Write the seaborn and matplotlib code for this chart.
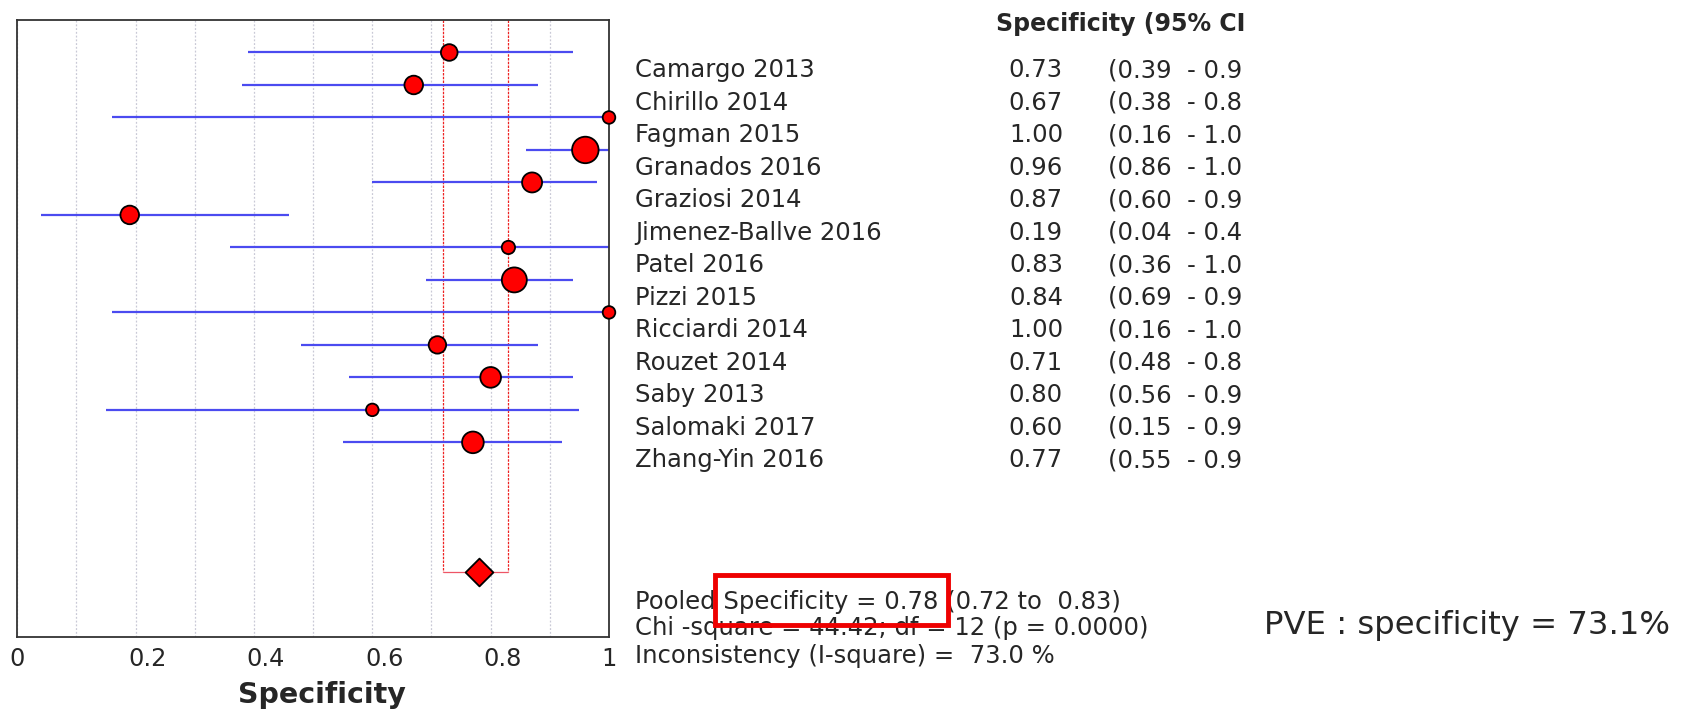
import numpy as np
import pandas as pd
import matplotlib
matplotlib.use("Agg")
import matplotlib.pyplot as plt
import matplotlib.transforms as mtransforms
import seaborn as sns
from matplotlib.transforms import blended_transform_factory
from matplotlib.patches import Rectangle

# ---------------- data ----------------
studies = ["Camargo 2013", "Chirillo 2014", "Fagman 2015", "Granados 2016",
           "Graziosi 2014", "Jimenez-Ballve 2016", "Patel 2016", "Pizzi 2015",
           "Ricciardi 2014", "Rouzet 2014", "Saby 2013", "Salomaki 2017",
           "Zhang-Yin 2016"]
specificity = [0.73, 0.67, 1.00, 0.96, 0.87, 0.19, 0.83, 0.84, 1.00, 0.71, 0.80, 0.60, 0.77]
ci_low = [0.39, 0.38, 0.16, 0.86, 0.60, 0.04, 0.36, 0.69, 0.16, 0.48, 0.56, 0.15, 0.55]
ci_high = [0.94, 0.88, 1.00, 1.00, 0.98, 0.46, 1.00, 0.94, 1.00, 0.88, 0.94, 0.95, 0.92]
weights = [6.1, 7.6, 3.5, 15.4, 8.8, 7.6, 3.9, 13.7, 3.5, 6.7, 9.4, 3.5, 10.3]

pooled = 0.78
pooled_low = 0.72
pooled_high = 0.83
chi_square = 44.42
dof = 12
p_value = 0.0000
i_square = 73.0
pve = 73.1

x_ticks = [0, 0.2, 0.4, 0.6, 0.8, 1]
x_tick_labels = ["0", "0.2", "0.4", "0.6", "0.8", "1"]
x_label = "Specificity"
header = "Specificity (95% CI"

# ---------------- style ----------------
sns.set_style("white")
plt.rcParams["font.family"] = ["DejaVu Sans"]

W, H = 1691, 714
fig = plt.figure(figsize=(W / 100, H / 100), dpi=100)
fx = lambda px: px / W
fy = lambda py: 1 - py / H

ax = fig.add_axes([fx(17.3), fy(637.3), fx(609) - fx(17.3), fy(20) - fy(637.3)])

n = len(studies)
df = pd.DataFrame({
    "study": studies,
    "spec": specificity,
    "lo": ci_low,
    "hi": ci_high,
    "weight": weights,
    "row": np.arange(n),
})
pooled_row = n + 3

# axes, ticks, grid
ax.set_xlim(0, 1)
ax.set_ylim(n + 5, -1)
ax.set_xticks(x_ticks)
ax.set_xticklabels(x_tick_labels, fontsize=17.3)
ax.set_xticks(np.arange(0.1, 1.0, 0.2), minor=True)
ax.grid(which="both", axis="x", color="#c9c9d6", linestyle=(0, (1.5, 1.5)), linewidth=0.9)
ax.set_yticks([])
ax.tick_params(axis="x", which="both", length=0, pad=7)
# the original software draws the inner tick labels slightly to the right
shift = mtransforms.ScaledTranslation(12 / 100, 0, fig.dpi_scale_trans)
for lab in ax.get_xticklabels()[1:-1]:
    lab.set_transform(lab.get_transform() + shift)
for s in ax.spines.values():
    s.set_color("#333333")
    s.set_linewidth(1.3)

# pooled CI box (red dotted)
ax.vlines([pooled_low, pooled_high], -1, pooled_row, colors="#ee2222",
          linestyles=(0, (2, 1)), linewidth=0.9, zorder=2)
ax.hlines(pooled_row, pooled_low, pooled_high, colors="#ee5566", linewidth=0.9, zorder=2)

# CI lines
ax.hlines(df["row"], df["lo"], df["hi"], colors="#4b4bf0", linewidth=1.6, zorder=2)

# study points
sns.scatterplot(data=df, x="spec", y="row", size="weight", sizes=(82, 364),
                size_norm=(min(weights), max(weights)), color="#ff0000",
                edgecolor="black", linewidth=1.3, legend=False, ax=ax, zorder=3)
ax.collections[-1].set_clip_on(False)

# pooled diamond
sns.scatterplot(x=[pooled], y=[pooled_row], marker="D", s=200, color="#ff0000",
                edgecolor="black", linewidth=1.3, legend=False, ax=ax, zorder=3)

ax.set_xlabel(x_label, fontsize=20.5, fontweight="bold", labelpad=9)
ax.xaxis.set_label_coords(0.515, -0.07)
ax.xaxis.label.set_va("top")
ax.set_ylabel("")

# ---------------- table text ----------------
tr = blended_transform_factory(fig.transFigure, ax.transData)
fs = 17.5
for i, r in df.iterrows():
    y = r["row"] + 0.76
    ax.text(fx(635), y, r["study"], transform=tr, fontsize=fs, va="baseline", ha="left")
    ax.text(fx(1063), y, f"{r['spec']:.2f}", transform=tr, fontsize=fs, va="baseline", ha="right")
    hi_txt = f"{r['hi']:.2f}"[:3]
    ax.text(fx(1108), y, f"({r['lo']:.2f}  - {hi_txt}", transform=tr, fontsize=fs,
            va="baseline", ha="left")

fig.text(fx(996), fy(31), header, fontsize=17, fontweight="bold", va="baseline", ha="left")

line1 = f"Pooled Specificity = {pooled:.2f} ({pooled_low:.2f} to  {pooled_high:.2f})"
line2 = f"Chi -square = {chi_square:.2f}; df = {dof} (p = {p_value:.4f})"
line3 = f"Inconsistency (I-square) =  {i_square:.1f} %"
base1, base2, base3 = 608.5, 635.5, 662.5
fig.text(fx(635), fy(base1), line1, fontsize=fs, va="baseline", ha="left")
fig.text(fx(635), fy(base2), line2, fontsize=fs, va="baseline", ha="left")
fig.text(fx(635), fy(base3), line3, fontsize=fs, va="baseline", ha="left")

# red highlight box around "Specificity = 0.78"
renderer = fig.canvas.get_renderer()
def text_w(s):
    t = fig.text(0, 0, s, fontsize=fs)
    w = t.get_window_extent(renderer).width
    t.remove()
    return w
hl = f"Specificity = {pooled:.2f}"
w_full = text_w(f"Pooled {hl}")
w_hl = text_w(hl)
x0 = 635 + (w_full - w_hl) - 8
x1 = 635 + w_full + 10
y_top = base1 - 17.5 - 16
y_bot = base1 + 16
fig.patches.append(Rectangle((fx(x0), fy(y_bot)), fx(x1) - fx(x0), fy(y_top) - fy(y_bot),
                             transform=fig.transFigure, fill=False, edgecolor="#ee0000",
                             linewidth=3.5, zorder=5))

fig.text(fx(1670), fy(634), f"PVE : specificity = {pve:.1f}%", fontsize=23.2,
         va="baseline", ha="right")

fig.savefig("out.png", dpi=100, facecolor="white")
